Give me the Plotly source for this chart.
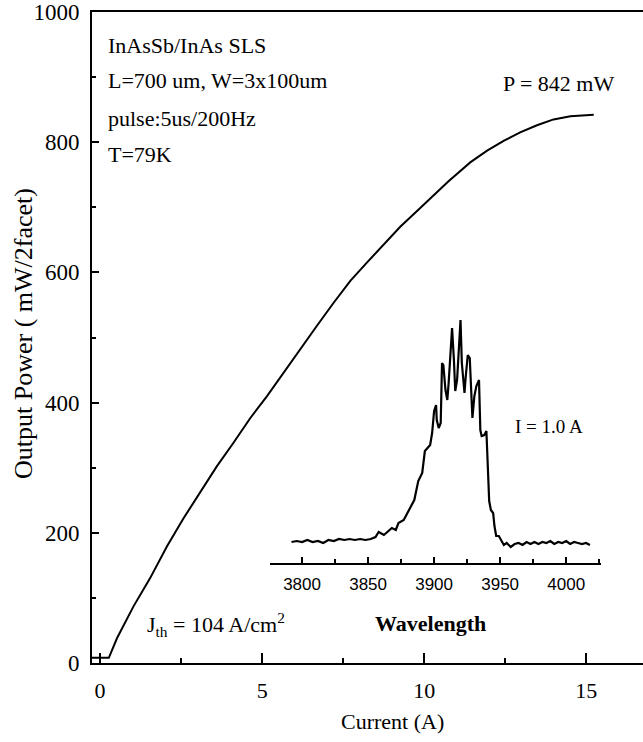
import plotly.graph_objects as go

# ---- main L-I curve ----
current_A = [-0.25, 0.27, 0.52, 1.03, 1.54, 2.06, 2.57, 3.09, 3.60, 4.11, 4.63, 5.15,
             5.66, 6.17, 6.69, 7.20, 7.72, 8.23, 8.74, 9.26, 9.77, 10.29, 10.75,
             11.42, 11.94, 12.45, 12.96, 13.48, 13.99, 14.51, 15.23]
power_mW = [8, 8, 38, 87, 130, 179, 222, 262, 302, 338, 376, 410,
            446, 483, 518, 553, 587, 615, 643, 670, 694, 719, 740,
            769, 787, 802, 815, 826, 835, 840, 842]

# ---- inset spectrum (arbitrary intensity units) ----
wavelength = [3792, 3796, 3800, 3804, 3808, 3812, 3816, 3820, 3824, 3828, 3832, 3836,
              3840, 3844, 3848, 3852, 3855.6, 3858, 3862, 3866, 3868, 3871, 3873, 3877,
              3881, 3885, 3888, 3891, 3893, 3895, 3897, 3898.5, 3900, 3901.5, 3902,
              3903.5, 3905, 3906, 3907, 3908.6, 3910, 3911, 3912, 3913.6, 3915, 3916,
              3917.4, 3918.7, 3920, 3921, 3923, 3924, 3925.5, 3927, 3928, 3929, 3930.5,
              3932, 3934, 3935, 3936, 3938, 3939.6, 3941, 3941.7, 3943, 3944.7, 3945.7,
              3947, 3949, 3950.8, 3952.8, 3955, 3958, 3961, 3964, 3967, 3970, 3973,
              3976, 3979, 3982, 3985, 3988, 3991, 3994, 3997, 4000, 4003, 4006, 4009,
              4012, 4015, 4018]
intensity = [21, 22, 21, 23, 21, 22, 20, 23, 22, 24, 23, 24,
             23, 24, 23, 24, 26, 31, 28, 33, 35, 33, 40, 43,
             53, 63, 82, 90, 112, 115, 118, 130, 152, 158, 143,
             135, 140, 200, 198, 173, 163, 180, 203, 235, 203, 172,
             183, 217, 243, 200, 170, 187, 208, 205, 167, 145, 167,
             177, 183, 133, 127, 128, 132, 77, 62, 53, 50, 37,
             27, 27, 22, 18, 20, 16, 19, 20, 18, 21, 19,
             21, 19, 21, 20, 22, 19, 21, 20, 22, 19, 21, 20,
             19, 20, 18]

x_ticks = [0, 5, 10, 15]
y_ticks = [0, 200, 400, 600, 800, 1000]
inset_ticks = [3800, 3850, 3900, 3950, 4000]

SERIF = "Times New Roman, Liberation Serif, serif"
SANS = "Arial, Liberation Sans, sans-serif"

fig = go.Figure()
fig.add_trace(go.Scatter(x=current_A, y=power_mW, mode="lines",
                         line=dict(color="black", width=2), xaxis="x", yaxis="y",
                         showlegend=False, hoverinfo="skip"))
fig.add_trace(go.Scatter(x=wavelength, y=intensity, mode="lines",
                         line=dict(color="black", width=2.2), xaxis="x2", yaxis="y2",
                         showlegend=False, hoverinfo="skip"))

W, H = 643, 742
L, R, T, B = 92, 0, 12, 79
pw, ph = W - L - R, H - T - B


def px(xp):
    return (xp - L) / pw


def py(yp):
    return (H - B - yp) / ph


fig.update_layout(
    width=W, height=H,
    margin=dict(l=L, r=R, t=T, b=B, pad=0),
    paper_bgcolor="white", plot_bgcolor="rgba(0,0,0,0)",
    font=dict(family=SERIF, color="black"),
    xaxis=dict(range=[-0.25, 16.75], domain=[0, 1], showline=True, linewidth=2,
               linecolor="black", mirror=True, ticks="inside", ticklen=10,
               tickwidth=2, tickcolor="black", tickvals=x_ticks,
               ticktext=[str(v) for v in x_ticks],
               minor=dict(dtick=2.5, tick0=0, ticks="inside", ticklen=5,
                          tickwidth=2, tickcolor="black"),
               showgrid=False, zeroline=False, tickfont=dict(family=SERIF, size=22),
               ticklabelstandoff=7),
    yaxis=dict(range=[0, 1000], domain=[0, 1], showline=True, linewidth=2,
               linecolor="black", mirror=False, ticks="inside", ticklen=7,
               tickwidth=2, tickcolor="black", tickvals=y_ticks,
               ticktext=[str(v) for v in y_ticks],
               minor=dict(dtick=100, tick0=0, ticks="inside", ticklen=4,
                          tickwidth=2, tickcolor="black"),
               showgrid=False, zeroline=False, tickfont=dict(family=SERIF, size=23),
               ticklabelstandoff=6),
    xaxis2=dict(range=[3775.5, 4026], domain=[px(269.7), px(600.5)], anchor="y2",
                showline=True, linewidth=2, linecolor="black", ticks="inside",
                ticklen=6, tickwidth=1.5, tickcolor="black", tickvals=inset_ticks,
                ticktext=[str(v) for v in inset_ticks],
                minor=dict(dtick=25, tick0=3800, ticks="inside", ticklen=4,
                           tickwidth=1.5, tickcolor="black"),
                showgrid=False, zeroline=False, tickfont=dict(family=SANS, size=17),
                ticklabelstandoff=5),
    yaxis2=dict(range=[0, 263], domain=[py(563), py(300)], anchor="x2",
                visible=False, showgrid=False, zeroline=False),
)

ann = []


def add(text, x, y, size, xanchor="left", yanchor="middle", angle=0):
    ann.append(dict(text=text, x=px(x), y=py(y), xref="paper", yref="paper",
                    showarrow=False, xanchor=xanchor, yanchor=yanchor,
                    textangle=angle, font=dict(family=SERIF, size=size, color="black")))


add("InAsSb/InAs SLS", 106, 45, 22)
add("L=700 um, W=3x100um", 106, 81, 22)
add("pulse:5us/200Hz", 106, 118, 22)
add("T=79K", 106, 154, 22)
add("P = 842 mW", 501, 84, 22)
add("I = 1.0 A", 513, 426, 19)
add("J<sub>th</sub> = 104 A/cm<sup>2</sup>", 145, 624, 22)
add("<b>Wavelength</b>", 430, 623, 22, xanchor="center")
add("Current (A)", 392, 721, 22, xanchor="center")
add("Output Power ( mW/2facet)", 23, 334, 26, xanchor="center", angle=-90)
fig.update_layout(annotations=ann)

fig.write_html("out.html")
